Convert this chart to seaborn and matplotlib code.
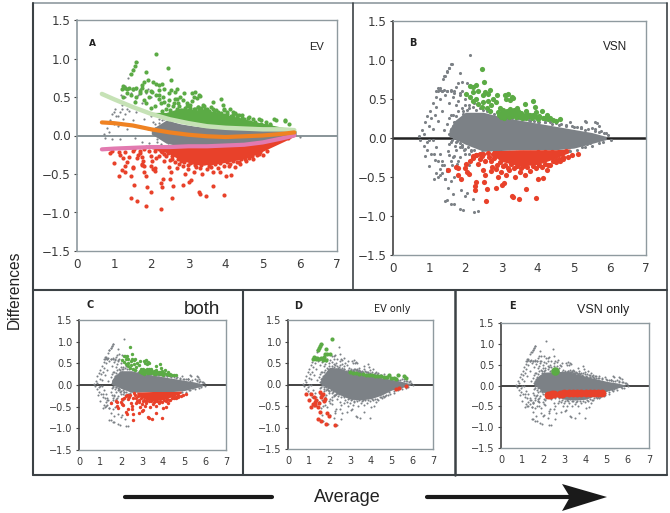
import matplotlib
matplotlib.use('Agg')
import matplotlib.pyplot as plt
import seaborn as sns
from matplotlib.patches import Polygon

sns.set_style('white')
plt.rcParams['font.family'] = ['DejaVu Sans']

W, H = 670, 513

# grey points that stay grey in every panel
grey_x = [0.72, 0.8, 0.88, 0.95, 1.02, 1.1, 1.18, 1.25, 1.3, 1.38, 1.42, 1.5, 1.56, 1.62,
          0.75, 0.85, 0.95, 1.0, 1.05, 1.1, 1.15, 1.2, 1.25, 1.3, 1.35, 1.35, 1.45, 1.5, 1.55, 1.6, 1.7, 1.65, 1.75, 1.85, 1.9, 2.0,
          0.85, 0.95, 1.0, 1.05, 1.1, 1.15, 1.2, 1.25, 1.3, 1.35, 1.35, 1.4, 1.45, 1.5, 1.55, 1.6, 1.62, 1.65, 1.7, 1.75, 1.8, 1.85, 1.9, 2.0, 2.05, 2.1, 2.15, 2.2, 1.5, 1.68, 1.95, 2.35, 2.25,
          1.4, 1.6, 1.8, 1.95, 1.7, 1.85, 1.55, 1.75, 1.92, 2.1, 2.05, 2.25, 1.65, 1.8, 1.98,
          5.35, 5.65, 5.3, 5.9, 6.02, 5.95, 5.5, 5.75, 5.2, 5.6, 5.85, 5.45]
grey_y = [0.02, 0.1, 0.2, 0.28, 0.35, 0.45, 0.52, 0.6, 0.64, 0.75, 0.8, 0.86, 0.9, 0.95,
          -0.03, 0.05, -0.05, 0.15, 0.25, 0.12, 0.3, 0.4, 0.22, 0.5, 0.35, 0.6, 0.55, 0.6, 0.45, 0.6, 0.6, 0.52, 0.42, 0.55, 0.6, 0.5,
          -0.1, -0.15, -0.02, -0.2, -0.02, -0.28, -0.12, -0.5, -0.2, -0.45, -0.3, -0.35, -0.52, -0.4, -0.22, -0.55, -0.35, -0.72, -0.5, -0.15, -0.3, -0.25, -0.1, -0.2, -0.7, -0.35, -0.15, -0.78, -0.8, -0.85, -0.92, -0.94, -0.25,
          0.1, 0.3, 0.2, 0.35, 0.02, 0.12, -0.08, -0.05, -0.12, 0.42, 0.3, 0.45, 0.15, 0.48, 0.22,
          0.21, 0.19, 0.1, 0.07, -0.02, 0.04, 0.13, 0.09, 0.14, 0.12, 0.06, -0.06]

# loose points on the rim of the solid cloud
rim_x = [1.5, 1.55, 1.6, 1.65, 1.7, 1.75, 1.8, 1.85, 1.9, 1.95, 2.0, 2.05, 2.1, 2.2, 2.3, 2.4, 2.5, 2.6, 2.7, 2.8, 2.9, 3.0, 3.2, 3.4, 3.6, 3.8, 4.0, 4.2, 4.4, 4.6, 4.8, 5.0, 5.2, 5.4, 5.6, 5.7,
         1.55, 1.62, 1.7, 1.78, 1.85, 1.92, 2.0, 2.08, 2.15, 2.25, 2.35, 2.45, 1.6, 1.72, 1.84, 1.96, 2.1, 2.2, 2.3, 2.4, 4.9, 5.1, 5.3, 5.5, 5.7, 5.8]
rim_y = [0.18, 0.25, 0.12, 0.3, 0.2, 0.28, 0.34, 0.24, 0.38, 0.31, 0.42, 0.36, 0.38, 0.4, 0.36, 0.38, 0.36, 0.34, 0.35, 0.31, 0.32, 0.3, 0.29, 0.26, 0.24, 0.22, 0.21, 0.2, 0.18, 0.17, 0.15, 0.14, 0.13, 0.11, 0.09, 0.08,
         0.05, -0.02, 0.0, -0.04, -0.06, -0.09, -0.14, -0.12, -0.17, -0.16, -0.2, -0.18, -0.05, -0.1, -0.12, -0.16, -0.2, -0.24, -0.22, -0.2, -0.17, -0.15, -0.12, -0.1, -0.07, -0.05]

# coloured in A, B and C, grey in D and E
green_both_x = [2.45, 2.52, 2.14, 2.29, 2.2, 2.03, 2.12, 2.22, 2.35, 2.54, 2.68, 2.63, 2.49, 2.31, 2.22, 2.35, 2.45, 2.59, 2.68, 2.49, 2.63, 2.77, 2.86, 2.72, 2.89, 3.09, 3.19, 3.28, 3.14, 3.23, 3.32, 3.65, 3.88, 3.67, 3.42, 3.92, 4.11, 3.97, 4.25, 4.43, 4.62, 4.15, 3.88, 3.6, 3.05, 3.19, 3.32, 3.46, 3.69,
                2.9, 3.0, 3.1, 3.2, 3.3, 3.4, 3.5, 2.95, 3.05, 3.15, 3.25, 3.35, 3.45, 3.55, 3.75, 3.85, 4.0, 4.3, 4.5,
                2.92, 3.02, 3.12, 3.22, 3.32, 3.42, 3.52, 3.62, 2.98, 3.08, 3.18, 3.28, 3.38, 3.48, 3.58, 3.7, 3.8, 3.95, 4.05, 4.2, 4.35]
green_both_y = [0.88, 0.72, 0.67, 0.675, 0.66, 0.57, 0.53, 0.59, 0.6, 0.59, 0.61, 0.57, 0.55, 0.5, 0.48, 0.44, 0.4, 0.38, 0.35, 0.46, 0.48, 0.5, 0.46, 0.42, 0.55, 0.55, 0.57, 0.53, 0.5, 0.49, 0.51, 0.43, 0.48, 0.35, 0.38, 0.4, 0.35, 0.33, 0.29, 0.23, 0.24, 0.25, 0.29, 0.29, 0.31, 0.35, 0.33, 0.31, 0.25,
                0.33, 0.31, 0.29, 0.3, 0.28, 0.27, 0.27, 0.38, 0.36, 0.34, 0.37, 0.36, 0.34, 0.32, 0.28, 0.26, 0.24, 0.24, 0.22,
                0.3, 0.33, 0.32, 0.27, 0.3, 0.3, 0.3, 0.27, 0.27, 0.26, 0.32, 0.33, 0.32, 0.3, 0.25, 0.31, 0.3, 0.27, 0.28, 0.26, 0.26]
red_both_x = [1.52, 1.74, 1.8, 1.8, 1.87, 1.99, 2.05, 2.1, 2.03, 2.12, 2.22, 2.35, 2.49, 2.54, 2.51, 2.31, 2.26, 2.28, 2.59, 2.56, 2.86, 3.02, 3.07, 2.91, 3.14, 3.37, 3.65, 3.67, 3.28, 3.32, 3.48, 3.97, 4.02, 4.14, 4.25, 4.52, 4.71, 5.11, 4.94,
              2.4, 2.55, 2.65, 2.75, 2.7, 2.85, 3.0, 3.2, 3.5, 3.8, 4.35, 4.6, 4.85, 2.3, 2.45, 2.62,
              2.72, 2.8, 2.88, 2.95, 3.05, 3.1, 3.18, 3.26, 3.34, 3.42, 3.55, 3.6, 3.72, 3.86, 3.95, 4.05, 4.12, 4.2, 4.3, 4.42, 4.5, 4.62, 4.7]
red_both_y = [-0.41, -0.37, -0.39, -0.48, -0.53, -0.39, -0.44, -0.46, -0.33, -0.29, -0.26, -0.33, -0.41, -0.48, -0.56, -0.56, -0.62, -0.67, -0.66, -0.81, -0.64, -0.6, -0.58, -0.5, -0.48, -0.5, -0.48, -0.65, -0.74, -0.76, -0.78, -0.77, -0.53, -0.51, -0.41, -0.31, -0.24, -0.2, -0.22,
              -0.27, -0.3, -0.24, -0.37, -0.42, -0.4, -0.43, -0.41, -0.44, -0.42, -0.35, -0.27, -0.25, -0.22, -0.23, -0.19,
              -0.3, -0.26, -0.34, -0.31, -0.36, -0.34, -0.38, -0.33, -0.38, -0.36, -0.39, -0.36, -0.37, -0.36, -0.39, -0.34, -0.37, -0.33, -0.34, -0.3, -0.28, -0.29, -0.27]

# coloured in A and D, grey in the others
green_ev_x = [2.12, 1.6, 1.55, 1.5, 1.45, 1.85, 1.25, 1.3, 1.4, 1.5, 1.6, 1.7, 1.75, 1.9, 1.8, 1.85, 2.05, 1.2, 1.35,
              3.0, 3.15, 3.3, 3.45, 3.6, 3.75, 3.9, 4.05, 4.2, 4.35, 4.5, 4.65, 4.8, 4.95, 5.1, 5.2, 4.9, 5.3, 5.6, 5.7]
green_ev_y = [1.06, 0.95, 0.9, 0.85, 0.8, 0.83, 0.64, 0.62, 0.62, 0.6, 0.62, 0.58, 0.65, 0.72, 0.7, 0.58, 0.7, 0.6, 0.6,
              0.28, 0.27, 0.26, 0.25, 0.24, 0.23, 0.22, 0.21, 0.2, 0.2, 0.19, 0.18, 0.17, 0.15, 0.14, 0.13, 0.21, 0.22, 0.2, 0.15]
red_ev_x = [0.89, 1.0, 1.13, 1.24, 1.29, 1.13, 1.45, 1.53, 1.61, 1.69, 1.77, 1.53, 1.45, 1.61, 1.88, 1.98, 1.85, 2.25, 1.2, 1.35, 1.3, 1.5, 1.65, 1.75, 5.23, 5.36, 5.68]
red_ev_y = [-0.23, -0.36, -0.21, -0.29, -0.4, -0.52, -0.52, -0.17, -0.29, -0.23, -0.33, -0.64, -0.81, -0.85, -0.67, -0.74, -0.91, -0.95, -0.45, -0.35, -0.48, -0.42, -0.25, -0.38, -0.11, -0.08, -0.03]

# coloured only in A
green_a_x = [1.25, 1.45, 1.55, 1.7, 1.85, 1.95, 2.1, 2.25, 2.4, 1.35, 1.6, 1.8, 2.0, 2.2, 2.7, 2.95, 3.1, 3.4, 3.6, 3.95, 4.2, 4.6, 4.95, 5.35, 5.6, 1.5, 1.75, 2.0,
             2.3, 2.5, 2.6, 2.75, 2.9, 3.05, 3.25, 3.5, 3.75, 4.05, 4.3, 4.45, 4.75, 5.1, 5.2]
green_a_y = [0.5, 0.52, 0.44, 0.55, 0.42, 0.5, 0.38, 0.42, 0.35, 0.55, 0.5, 0.46, 0.58, 0.52, 0.47, 0.42, 0.45, 0.4, 0.37, 0.34, 0.3, 0.23, 0.2, 0.2, 0.19, 0.6, 0.62, 0.36,
             0.32, 0.33, 0.42, 0.38, 0.36, 0.4, 0.37, 0.35, 0.33, 0.3, 0.27, 0.26, 0.22, 0.17, 0.15]
red_a_x = [0.95, 1.15, 1.3, 1.5, 1.7, 1.75, 1.8, 1.95, 2.0, 2.1, 2.2, 2.35, 2.45, 2.55, 2.1, 1.4, 3.85, 4.4, 4.75, 5.0, 2.25, 2.5, 2.65, 2.8, 3.0, 3.3, 3.6, 4.1, 4.55, 4.9]
red_a_y = [-0.2, -0.25, -0.22, -0.2, -0.2, -0.28, -0.18, -0.2, -0.27, -0.2, -0.18, -0.24, -0.2, -0.26, -0.42, -0.28, -0.47, -0.37, -0.3, -0.25, -0.2, -0.32, -0.35, -0.33, -0.38, -0.42, -0.41, -0.4, -0.33, -0.24]

# blobs and bands that show up only in VSN
green_vsn_x = [2.57]
green_vsn_y = [0.35]
red_vsn_x = [2.2, 2.3, 2.4, 2.5, 2.78, 2.9, 3.0, 3.2, 3.4, 3.6, 3.8, 4.0, 4.2, 4.4, 4.6, 4.8]
red_vsn_y = [-0.23, -0.22, -0.21, -0.2, -0.2, -0.2, -0.19, -0.19, -0.19, -0.19, -0.19, -0.18, -0.18, -0.18, -0.18, -0.17]

# solid part of the cloud, read as upper/lower edge per panel
core_x = [1.55, 1.7, 2.0, 2.5, 3.0, 3.5, 4.0, 4.5, 5.0, 5.5, 5.9]
core_top_bc = [0.1, 0.22, 0.33, 0.33, 0.27, 0.23, 0.19, 0.15, 0.11, 0.07, 0.02]
core_bot_bc = [0.02, -0.01, -0.08, -0.17, -0.16, -0.15, -0.15, -0.15, -0.13, -0.07, -0.02]
core_top_d = [0.08, 0.22, 0.4, 0.38, 0.29, 0.25, 0.2, 0.16, 0.12, 0.07, 0.02]
core_bot_d = [0.02, -0.01, -0.1, -0.24, -0.34, -0.36, -0.33, -0.25, -0.13, -0.07, -0.02]
core_top_e = [0.08, 0.2, 0.32, 0.33, 0.34, 0.28, 0.22, 0.16, 0.1, 0.06, 0.01]
core_bot_e = [0.02, -0.02, -0.16, -0.24, -0.33, -0.35, -0.33, -0.24, -0.14, -0.06, -0.01]
band_x = [2.75, 3.0, 3.5, 4.0, 4.5, 4.9]
band_top = [-0.16, -0.16, -0.15, -0.15, -0.15, -0.14]
band_bot = [-0.22, -0.3, -0.36, -0.34, -0.26, -0.18]

# panel A cloud, edges of the solid grey, green and red
a_x = [2.0, 2.4, 2.8, 3.2, 3.6, 4.0, 4.4, 4.8, 5.2, 5.6, 5.9]
a_grey_top = [0.08, 0.2, 0.15, 0.12, 0.1, 0.1, 0.09, 0.09, 0.08, 0.07, 0.05]
a_grey_bot = [0.02, -0.1, -0.14, -0.14, -0.14, -0.13, -0.12, -0.1, -0.07, -0.03, 0.0]
a_green_low = [0.28, 0.22, 0.17, 0.13, 0.11, 0.1, 0.09, 0.09, 0.08, 0.07, 0.05]
a_green_top = [0.3, 0.3, 0.36, 0.33, 0.3, 0.27, 0.23, 0.18, 0.14, 0.1, 0.06]
a_red_top = [-0.15, -0.15, -0.14, -0.14, -0.14, -0.13, -0.12, -0.1, -0.07, -0.03, 0.0]
a_red_bot = [-0.17, -0.22, -0.32, -0.38, -0.38, -0.35, -0.31, -0.25, -0.16, -0.07, 0.0]
a_grey_sparse_x = [1.0, 1.1, 1.2, 1.3, 1.4, 1.5, 1.6, 1.7, 1.8, 1.9, 2.0, 2.1, 2.2, 2.3, 1.15, 1.35, 1.55, 1.75, 1.95, 2.15, 2.3, 2.05, 2.2, 2.3, 1.85, 6.0,
                   2.1, 2.2, 2.28, 2.35, 2.42, 2.5, 2.15, 2.25, 2.35, 2.45, 2.55, 2.62, 2.05, 2.12, 2.32, 2.4]
a_grey_sparse_y = [0.3, 0.25, 0.35, 0.28, 0.32, 0.2, 0.3, 0.12, 0.22, 0.08, 0.25, 0.15, 0.22, 0.12, -0.05, 0.08, -0.03, -0.08, -0.1, -0.05, 0.03, 0.18, 0.08, 0.2, -0.13, -0.02,
                   0.1, 0.16, 0.02, 0.22, 0.12, 0.19, -0.08, -0.11, -0.03, -0.12, 0.17, -0.14, 0.03, 0.06, 0.08, -0.06]

# panel A loess curves
fit_x = [0.67, 1.0, 1.5, 2.0, 2.5, 3.0, 3.5, 4.0, 4.5, 5.0, 5.5, 5.85]
fit_upper = [0.54, 0.47, 0.37, 0.28, 0.21, 0.16, 0.12, 0.1, 0.09, 0.08, 0.08, 0.07]
fit_mid = [0.17, 0.16, 0.13, 0.08, 0.04, 0.01, -0.01, -0.02, -0.01, 0.0, 0.02, 0.04]
fit_lower = [-0.18, -0.17, -0.16, -0.15, -0.15, -0.14, -0.14, -0.13, -0.12, -0.09, -0.04, 0.0]

y_ticks = [-1.5, -1.0, -0.5, 0.0, 0.5, 1.0, 1.5]
x_ticks = [0, 1, 2, 3, 4, 5, 6, 7]

GREY, GREEN, RED = '#7c8186', '#5bab45', '#e8412a'
FRAME = '#3c4245'
SPINE = '#8f9a9f'

fig = plt.figure(figsize=(W / 100, H / 100), dpi=100, facecolor='white')

# whole-figure axes in pixels, for the boxes, the labels and the arrow
bg = fig.add_axes([0, 0, 1, 1], zorder=5)
bg.set_xlim(0, W)
bg.set_ylim(H, 0)
bg.axis('off')
bg.patch.set_alpha(0)


def make_panel(left, top, right, bottom, fsize, zero_color, zero_width, left_color):
    ax = fig.add_axes([left / W, 1 - bottom / H, (right - left) / W, (bottom - top) / H])
    ax.set_xlim(0, 7)
    ax.set_ylim(-1.5, 1.5)
    ax.set_xticks(x_ticks)
    ax.set_yticks(y_ticks)
    ax.set_yticklabels(['\u22121.5', '\u22121.0', '\u22120.5', '0.0', '0.5', '1.0', '1.5'])
    ax.tick_params(axis='y', length=2.5, width=0.8, color='#444444', pad=2, labelsize=fsize, labelcolor='#3a3a3a', left=True)
    ax.tick_params(axis='x', length=0, pad=5, labelsize=fsize, labelcolor='#3a3a3a')
    for s in ax.spines.values():
        s.set_color(SPINE)
        s.set_linewidth(1.0)
    ax.spines['left'].set_color(left_color)
    ax.spines['left'].set_linewidth(1.2)
    ax.axhline(0, color=zero_color, lw=zero_width, zorder=1.5)
    return ax


def dots(ax, x, y, color, size, z=3):
    sns.scatterplot(x=x, y=y, color=color, s=size, linewidth=0, ax=ax, zorder=z, legend=False)


# panel A
ax = make_panel(77, 20, 337, 251, 8.6, '#7f8b90', 1.3, SPINE)
ax.fill_between(a_x, a_grey_bot, a_grey_top, color=GREY, lw=0, zorder=2)
ax.fill_between(a_x, a_green_low, a_green_top, color=GREEN, lw=0, zorder=2)
ax.fill_between(a_x, a_red_bot, a_red_top, color=RED, lw=0, zorder=2)
dots(ax, grey_x[:36] + a_grey_sparse_x, grey_y[:36] + a_grey_sparse_y, GREY, 2.5)
dots(ax, green_both_x + green_ev_x + green_a_x, green_both_y + green_ev_y + green_a_y, GREEN, 9)
dots(ax, red_both_x + red_ev_x + red_a_x, red_both_y + red_ev_y + red_a_y, RED, 9)
sns.lineplot(x=fit_x, y=fit_upper, color='#c6e2b6', lw=3.2, ax=ax, zorder=4)
sns.lineplot(x=fit_x, y=fit_lower, color='#e27ab0', lw=3.0, ax=ax, zorder=4)
sns.lineplot(x=fit_x, y=fit_mid, color='#ef8222', lw=3.0, ax=ax, zorder=4)

# panel B
ax = make_panel(393, 21, 646, 255, 8.6, '#222222', 1.8, '#444444')
ax.fill_between(core_x, core_bot_bc, core_top_bc, color=GREY, lw=0, zorder=2)
ax.fill_between(band_x, band_bot, band_top, color=RED, lw=0, zorder=2)
dots(ax, grey_x + rim_x + green_ev_x + red_ev_x, grey_y + rim_y + green_ev_y + red_ev_y, GREY, 5)
dots(ax, green_both_x, green_both_y, GREEN, 14)
dots(ax, red_both_x + red_vsn_x, red_both_y + red_vsn_y, RED, 14)

# panel C
ax = make_panel(79, 320, 226, 450, 7.0, '#222222', 1.2, '#444444')
ax.fill_between(core_x, core_bot_bc, core_top_bc, color=GREY, lw=0, zorder=2)
ax.fill_between(band_x, band_bot, band_top, color=RED, lw=0, zorder=2)
dots(ax, grey_x + rim_x + green_ev_x + red_ev_x, grey_y + rim_y + green_ev_y + red_ev_y, GREY, 2.2)
dots(ax, green_both_x, green_both_y, GREEN, 6)
dots(ax, red_both_x, red_both_y, RED, 6)

# panel D
ax = make_panel(288, 320, 433, 449, 7.0, '#222222', 1.2, '#444444')
ax.fill_between(core_x, core_bot_d, core_top_d, color=GREY, lw=0, zorder=2)
dots(ax, grey_x + rim_x + green_both_x + red_both_x, grey_y + rim_y + green_both_y + red_both_y, GREY, 2.2)
dots(ax, green_ev_x, green_ev_y, GREEN, 9)
dots(ax, red_ev_x, red_ev_y, RED, 9)

# panel E
ax = make_panel(501, 323, 649, 448, 7.0, '#222222', 1.2, '#444444')
ax.fill_between(core_x, core_bot_e, core_top_e, color=GREY, lw=0, zorder=2)
dots(ax, grey_x + rim_x + green_both_x + red_both_x + green_ev_x + red_ev_x, grey_y + rim_y + green_both_y + red_both_y + green_ev_y + red_ev_y, GREY, 2.2)
dots(ax, green_vsn_x, green_vsn_y, GREEN, 38)
dots(ax, red_vsn_x, red_vsn_y, RED, 32)

# boxes round the panels
bg.plot([33, 667], [3, 3], color=SPINE, lw=1.2)
bg.plot([667, 667], [3, 475], color=FRAME, lw=1.2)
bg.plot([33, 33], [3, 475], color=FRAME, lw=1.5)
bg.plot([33, 667], [289.5, 289.5], color=FRAME, lw=1.5)
bg.plot([33, 667], [475, 475], color=FRAME, lw=1.5)
bg.plot([353, 353], [3, 289.5], color=FRAME, lw=1.2)
bg.plot([243, 243], [289.5, 475], color=FRAME, lw=1.5)
bg.plot([455, 455], [289.5, 475], color=FRAME, lw=1.8)

# arrow along the bottom
bg.plot([125, 272], [497, 497], color='#1a1a1a', lw=3)
bg.plot([427, 575], [497, 497], color='#1a1a1a', lw=3)
bg.add_patch(Polygon([[562, 484], [607, 497], [562, 511], [570, 497]], closed=True, color='#1a1a1a', lw=0))

# labels
bg.text(14, 290, 'Differences', rotation=90, ha='center', va='center', family='Liberation Sans', fontsize=11.2, color='#222222')
bg.text(347, 498, 'Average', ha='center', va='center', family='Liberation Sans', fontsize=13, color='#222222')
bg.text(92, 43, 'A', ha='center', va='center', fontsize=6.5, fontweight='bold', color='#222222')
bg.text(413, 43, 'B', ha='center', va='center', fontsize=7, fontweight='bold', color='#222222')
bg.text(90, 305, 'C', ha='center', va='center', fontsize=7, fontweight='bold', color='#222222')
bg.text(298, 306, 'D', ha='center', va='center', fontsize=7, fontweight='bold', color='#222222')
bg.text(512, 306, 'E', ha='center', va='center', fontsize=7, fontweight='bold', color='#222222')
bg.text(316, 47, 'EV', ha='center', va='center', family='Liberation Sans', fontsize=8, color='#222222')
bg.text(615, 47, 'VSN', ha='center', va='center', family='Liberation Sans', fontsize=8.5, color='#222222')
bg.text(202, 310, 'both', ha='center', va='center', family='Liberation Sans', fontsize=13.5, color='#222222')
bg.text(392, 309, 'EV only', ha='center', va='center', family='DejaVu Sans', fontsize=7, color='#222222')
bg.text(603, 310, 'VSN only', ha='center', va='center', family='Liberation Sans', fontsize=9, color='#222222')

fig.savefig('out.png', dpi=100)
